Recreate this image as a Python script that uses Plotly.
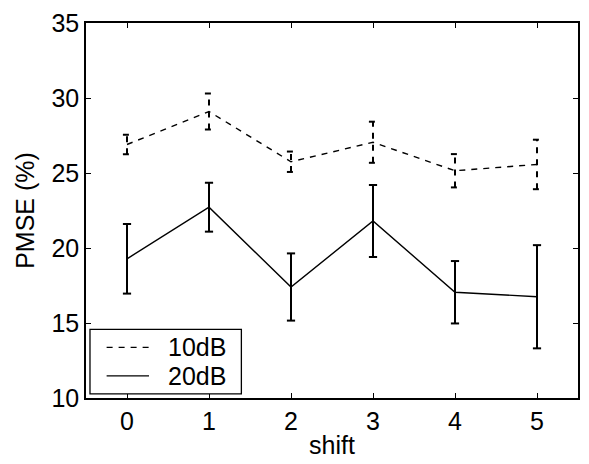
import plotly.graph_objects as go

# PMSE (%) versus shift, two SNR conditions, mean with error bars
shift = [0, 1, 2, 3, 4, 5]
pmse_10db = [26.9, 29.1, 25.75, 27.05, 25.15, 25.57]
err_10db = [0.65, 1.2, 0.68, 1.37, 1.11, 1.65]
pmse_20db = [19.28, 22.72, 17.4, 21.8, 17.05, 16.75]
err_20db = [2.32, 1.63, 2.24, 2.4, 2.08, 3.44]

x_ticks = [0, 1, 2, 3, 4, 5]
y_ticks = [10, 15, 20, 25, 30, 35]

FONT = "Liberation Sans, Arial, Helvetica, sans-serif"
DASH = "6px,6px"
CAP = 0.05  # half width of error bar caps, in x units


def errorbar_path(xs, ys, es, hw):
    """Vertical stems plus top/bottom caps as one broken polyline."""
    px, py = [], []
    for x, y, e in zip(xs, ys, es):
        lo, hi = y - e, y + e
        px += [x, x, None, x - hw, x + hw, None, x - hw, x + hw, None]
        py += [lo, hi, None, lo, lo, None, hi, hi, None]
    return px, py


fig = go.Figure()

ex, ey = errorbar_path(shift, pmse_10db, err_10db, CAP)
fig.add_trace(go.Scatter(x=ex, y=ey, mode="lines", showlegend=False,
                         line=dict(color="black", width=2, dash=DASH),
                         hoverinfo="skip"))
ex, ey = errorbar_path(shift, pmse_20db, err_20db, CAP)
fig.add_trace(go.Scatter(x=ex, y=ey, mode="lines", showlegend=False,
                         line=dict(color="black", width=2),
                         hoverinfo="skip"))

fig.add_trace(go.Scatter(x=shift, y=pmse_10db, mode="lines", name="10dB",
                         line=dict(color="black", width=1.4, dash=DASH)))
fig.add_trace(go.Scatter(x=shift, y=pmse_20db, mode="lines", name="20dB",
                         line=dict(color="black", width=1.4)))

# boxed legend in the lower-left corner of the axes
legend_shapes = [
    dict(type="rect", xref="paper", yref="paper",
         x0=0.0081, x1=0.3158, y0=0.011, y1=0.1828,
         line=dict(color="black", width=1.3), fillcolor="white"),
    dict(type="line", xref="paper", yref="paper",
         x0=0.0419, x1=0.1281, y0=0.1349, y1=0.1349,
         line=dict(color="black", width=1.3, dash=DASH)),
    dict(type="line", xref="paper", yref="paper",
         x0=0.0419, x1=0.1281, y0=0.059, y1=0.059,
         line=dict(color="black", width=1.3)),
]
legend_text = [
    dict(text="10dB", xref="paper", yref="paper", x=0.162, y=0.1349,
         xanchor="left", yanchor="middle", showarrow=False,
         font=dict(family=FONT, size=25, color="black")),
    dict(text="20dB", xref="paper", yref="paper", x=0.162, y=0.059,
         xanchor="left", yanchor="middle", showarrow=False,
         font=dict(family=FONT, size=25, color="black")),
]

axis_common = dict(
    showline=True, linecolor="black", linewidth=1.5, mirror="ticks",
    ticks="inside", ticklen=5, tickwidth=1, tickcolor="black",
    showgrid=False, zeroline=False,
    tickfont=dict(family=FONT, size=25, color="black"),
)

fig.update_layout(
    width=589, height=464,
    margin=dict(l=86, r=9, t=15, b=59),
    paper_bgcolor="white", plot_bgcolor="white",
    showlegend=False,
    shapes=legend_shapes,
    annotations=legend_text,
    xaxis=dict(range=[-0.5, 5.5], tickvals=x_ticks,
               title=dict(text="shift", standoff=3,
                          font=dict(family=FONT, size=25, color="black")),
               **axis_common),
    yaxis=dict(range=[10, 35], tickvals=y_ticks,
               title=dict(text="PMSE (%)", standoff=10,
                          font=dict(family=FONT, size=25, color="black")),
               **axis_common),
)

fig.write_html("out.html")
